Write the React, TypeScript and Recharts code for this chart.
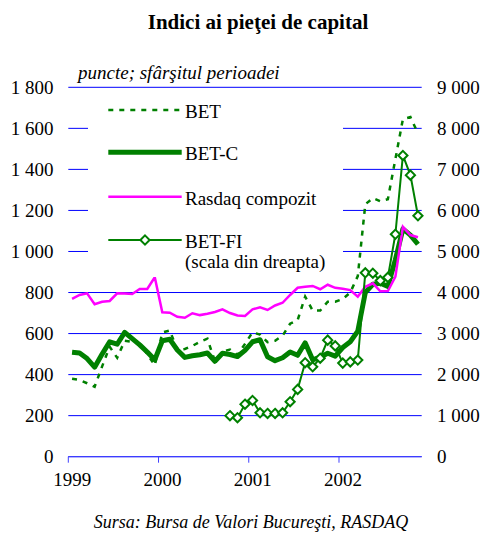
import React from "react";
import { ComposedChart, Line, XAxis, YAxis, CartesianGrid, Legend } from "recharts";

// Monthly, end of period: Jan 1999 ... Nov 2002
const months = [
  "1999-01", "1999-02", "1999-03", "1999-04", "1999-05", "1999-06", "1999-07", "1999-08", "1999-09", "1999-10", "1999-11", "1999-12",
  "2000-01", "2000-02", "2000-03", "2000-04", "2000-05", "2000-06", "2000-07", "2000-08", "2000-09", "2000-10", "2000-11", "2000-12",
  "2001-01", "2001-02", "2001-03", "2001-04", "2001-05", "2001-06", "2001-07", "2001-08", "2001-09", "2001-10", "2001-11", "2001-12",
  "2002-01", "2002-02", "2002-03", "2002-04", "2002-05", "2002-06", "2002-07", "2002-08", "2002-09", "2002-10", "2002-11",
];

const yearLabels = ["1999", "2000", "2001", "2002"];

const BET = [
  380, 374, 358, 341, 440, 536, 482, 565, 560, 550, 500, 445,
  605, 615, 520, 525, 540, 560, 575, 465, 512, 522, 496, 550,
  606, 595, 558, 565, 590, 648, 666, 780, 712, 712, 755, 755,
  768, 800, 880, 1230, 1260, 1245, 1255, 1450, 1645, 1655, 1576,
];

const BETC = [
  509, 505, 478, 436, 500, 560, 548, 606, 575, 545, 510, 472,
  565, 572, 520, 484, 492, 497, 505, 465, 504, 498, 488, 518,
  560, 570, 487, 468, 482, 510, 494, 555, 472, 485, 504, 490,
  532, 560, 612, 800, 840, 845, 830, 960, 1110, 1080, 1035,
];

const RASDAQ = [
  769, 788, 796, 743, 755, 759, 796, 795, 793, 817, 817, 874,
  704, 702, 682, 677, 699, 690, 697, 705, 718, 700, 688, 686,
  718, 728, 715, 737, 750, 788, 823, 828, 832, 816, 838, 823,
  818, 812, 780, 828, 845, 806, 807, 877, 1120, 1080, 1069,
];

const BETFI: (number | null)[] = [
  null, null, null, null, null, null, null, null, null, null, null, null,
  null, null, null, null, null, null, null, null, null, 1000, 950, 1280,
  1370, 1070, 1055, 1055, 1070, 1340, 1640, 2290, 2190, 2400, 2840, 2700,
  2280, 2310, 2355, 4480, 4470, 4290, 4370, 5420, 7340, 6860, 5870,
];

const leftTicks = [0, 200, 400, 600, 800, 1000, 1200, 1400, 1600, 1800];
const rightTicks = [0, 1000, 2000, 3000, 4000, 5000, 6000, 7000, 8000, 9000];

const data = months.map((m, i) => ({
  month: m,
  t: i + 0.5,
  bet: BET[i],
  betc: BETC[i],
  rasdaq: RASDAQ[i],
  betfi: BETFI[i],
}));

const GREEN = "#008000";
const MAGENTA = "#ff00ff";
const FONT = "'Liberation Serif', 'Times New Roman', serif";

const fmt = (v: number) =>
  v >= 1000 ? `${Math.floor(v / 1000)} ${String(v % 1000).padStart(3, "0")}` : String(v);

const Diamond = (props: any) => {
  const { cx, cy, index } = props;
  if (cx == null || cy == null || props.value == null) return <g key={`d-${index}`} />;
  const r = 4.6;
  return (
    <path
      key={`d-${index}`}
      d={`M${cx},${cy - r} L${cx + r},${cy} L${cx},${cy + r} L${cx - r},${cy} Z`}
      fill="#ffffff"
      stroke={GREEN}
      strokeWidth={2}
    />
  );
};

const legendItems = [
  { name: "BET", color: GREEN, width: 2.5, dash: "5 6", diamond: false, y: 15 },
  { name: "BET-C", color: GREEN, width: 5, dash: undefined, diamond: false, y: 57.3 },
  { name: "Rasdaq compozit", color: MAGENTA, width: 2.5, dash: undefined, diamond: false, y: 101.7 },
  { name: "BET-FI", color: GREEN, width: 2, dash: undefined, diamond: true, y: 145 },
];

const renderLegend = () => (
  <svg width={255} height={182} style={{ display: "block", background: "#ffffff" }}>
    {legendItems.map((it) => (
      <g key={it.name}>
        <line
          x1={20.3}
          x2={93.7}
          y1={it.y}
          y2={it.y}
          stroke={it.color}
          strokeWidth={it.width}
          strokeDasharray={it.dash}
        />
        {it.diamond && (
          <path
            d={`M57,${it.y - 4.6} L61.6,${it.y} L57,${it.y + 4.6} L52.4,${it.y} Z`}
            fill="#ffffff"
            stroke={GREEN}
            strokeWidth={2}
          />
        )}
        <text x={97} y={it.y + 8} fontFamily={FONT} fontSize={19} fill="#000">
          {it.name}
        </text>
      </g>
    ))}
    <text x={97} y={173} fontFamily={FONT} fontSize={19} fill="#000">
      (scala din dreapta)
    </text>
  </svg>
);

const XTick = (props: any) => {
  const { x, y, payload } = props;
  const label = yearLabels[Math.round(payload.value / 12)];
  return (
    <text x={x + 4} y={y} dy="0.71em" textAnchor="middle" fontFamily={FONT} fontSize={19} fill="#000">
      {label}
    </text>
  );
};

export default function App() {
  return (
    <div style={{ position: "absolute", left: 0, top: 0, width: 483, height: 535, background: "#fff" }}>
      <ComposedChart
        width={483}
        height={535}
        data={data}
        margin={{ top: 87.3, right: 0, bottom: 48.3, left: 0 }}
      >
        <CartesianGrid yAxisId="left" horizontal vertical={false} stroke="#0000ff" strokeWidth={1} />
        <XAxis
          dataKey="t"
          type="number"
          domain={[0, 47]}
          ticks={[0, 12, 24, 36]}
          height={30}
          tickSize={6}
          tickMargin={10}
          axisLine={{ stroke: "#4040ff", strokeWidth: 1 }}
          tickLine={{ stroke: "#4040ff", strokeWidth: 1 }}
          tick={<XTick />}
          interval={0}
        />
        <YAxis
          yAxisId="left"
          orientation="left"
          width={68.3}
          domain={[0, 1800]}
          ticks={leftTicks}
          interval={0}
          axisLine={false}
          tickLine={false}
          tickSize={6}
          tickMargin={8.8}
          tickFormatter={fmt}
          tick={{ fill: "#000", fontSize: 19, fontFamily: FONT }}
        />
        <YAxis
          yAxisId="right"
          orientation="right"
          width={61.3}
          domain={[0, 9000]}
          ticks={rightTicks}
          interval={0}
          axisLine={false}
          tickLine={false}
          tickSize={6}
          tickMargin={9.3}
          tickFormatter={fmt}
          tick={{ fill: "#000", fontSize: 19, fontFamily: FONT, textAnchor: "start" }}
        />
        <Legend
          layout="horizontal"
          verticalAlign="middle"
          align="center"
          content={renderLegend}
          wrapperStyle={{ position: "absolute", left: 88, top: 95, width: 255, height: 182 }}
        />
        <Line
          yAxisId="left"
          dataKey="betc"
          name="BET-C"
          stroke={GREEN}
          strokeWidth={5}
          dot={false}
          isAnimationActive={false}
          strokeLinejoin="round"
        />
        <Line
          yAxisId="left"
          dataKey="bet"
          name="BET"
          stroke={GREEN}
          strokeWidth={2.5}
          strokeDasharray="5 6"
          dot={false}
          isAnimationActive={false}
        />
        <Line
          yAxisId="left"
          dataKey="rasdaq"
          name="Rasdaq compozit"
          stroke={MAGENTA}
          strokeWidth={2.5}
          dot={false}
          isAnimationActive={false}
        />
        <Line
          yAxisId="right"
          dataKey="betfi"
          name="BET-FI"
          stroke={GREEN}
          strokeWidth={2}
          dot={<Diamond />}
          connectNulls={false}
          isAnimationActive={false}
        />
      </ComposedChart>
      <svg
        width={483}
        height={535}
        style={{ position: "absolute", left: 0, top: 0, pointerEvents: "none" }}
      >
        <text x={258} y={28.5} textAnchor="middle" fontFamily={FONT} fontSize={21} fontWeight="bold" fill="#000">
          Indici ai pieţei de capital
        </text>
        <text x={78} y={78.5} fontFamily={FONT} fontSize={19} fontStyle="italic" fill="#000">
          puncte; sfârşitul perioadei
        </text>
        <text x={251} y={528} textAnchor="middle" fontFamily={FONT} fontSize={18} fontStyle="italic" fill="#000">
          Sursa: Bursa de Valori Bucureşti, RASDAQ
        </text>
      </svg>
    </div>
  );
}
